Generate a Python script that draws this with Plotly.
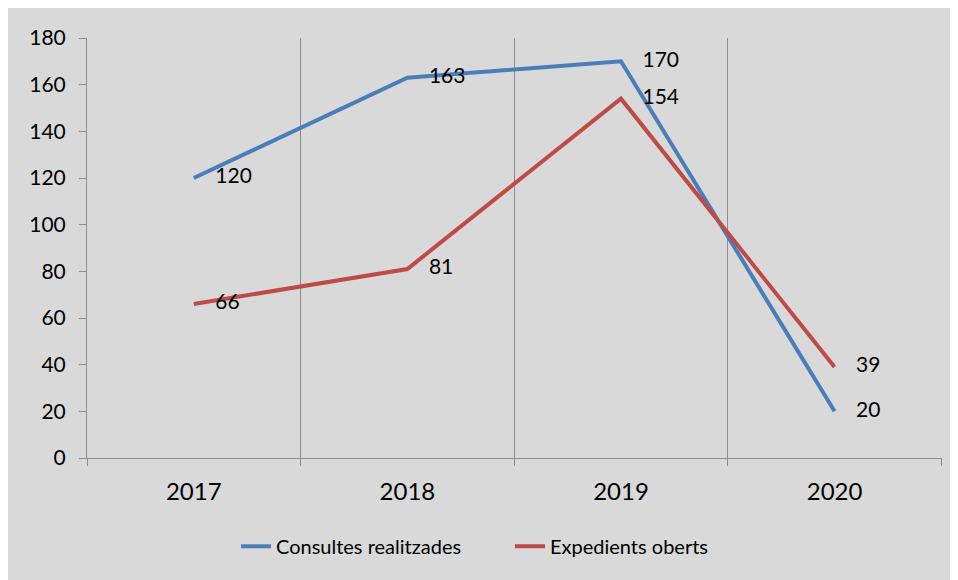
import plotly.graph_objects as go

years = ["2017", "2018", "2019", "2020"]
consultes = [120, 163, 170, 20]
expedients = [66, 81, 154, 39]
y_ticks = [0, 20, 40, 60, 80, 100, 120, 140, 160, 180]

BLUE = "#4a7ebb"
RED = "#be4b48"
GRID = "#8c8c8c"
BG = "#d9d9d9"
FONT = "Lato"
PAD = "\u00a0\u00a0\u00a0\u00a0"

fig = go.Figure()
for name, vals, col in (("Consultes realitzades", consultes, BLUE),
                        ("Expedients oberts", expedients, RED)):
    fig.add_trace(go.Scatter(x=years, y=vals, mode="lines+text", name=name,
                             text=[PAD + str(v) for v in vals], textposition="middle right",
                             textfont=dict(family=FONT, size=21, color="#000000"),
                             line=dict(color=col, width=4)))

fig.update_layout(
    width=958, height=580,
    margin=dict(l=79, r=24, t=30, b=130),
    paper_bgcolor=BG,
    plot_bgcolor=BG,
    showlegend=True,
    legend=dict(orientation="h", x=(236 - 87) / 855, xanchor="left", y=-0.21, yanchor="middle",
                entrywidth=229, entrywidthmode="pixels",
                font=dict(family=FONT, size=20, color="#000000"), bgcolor="rgba(0,0,0,0)"),
    xaxis=dict(type="category", range=[-0.5, 3.503], tickson="boundaries", showgrid=True,
               gridcolor=GRID, gridwidth=1, showline=True, linecolor=GRID, linewidth=1,
               ticks="outside", ticklen=7, tickcolor=GRID, ticklabelstandoff=12,
               tickfont=dict(family=FONT, size=24, color="#000000"), zeroline=False),
    yaxis=dict(range=[0, 180], tickvals=y_ticks, showgrid=False, showline=True, linecolor=GRID,
               linewidth=1, ticks="outside", ticklen=7, tickcolor=GRID, zeroline=False,
               tickfont=dict(family=FONT, size=21, color="#000000"), ticklabelstandoff=9),
)

fig.write_html("out.html")
